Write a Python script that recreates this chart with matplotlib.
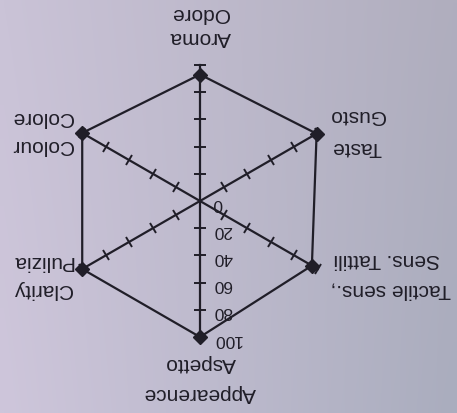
import numpy as np
import matplotlib
matplotlib.use("Agg")
import matplotlib.pyplot as plt
from matplotlib.markers import MarkerStyle
from matplotlib.transforms import Affine2D

# ---- data ----
categories = ["Aroma", "Taste", "Tactile sens.,", "Appearence", "Clarity", "Colour"]
categories_it = ["Odore", "Gusto", "Sens. Tattili", "Aspetto", "Pulizia", "Colore"]
angles_deg = [90, 30, -30, -90, 210, 150]
values = [93, 99, 95, 100, 100, 100]
tick_values = [20, 40, 60, 80, 100]
tick_labels = ["0", "20", "40", "60", "80", "100"]
tick_label_values = [0, 20, 40, 60, 80, 100]

W, H, DPI = 457, 413, 100
fig = plt.figure(figsize=(W / DPI, H / DPI), dpi=DPI)
ax = fig.add_axes([0, 0, 1, 1])

# pixel -> data helper (center at px (200,201), 100 units = 136 px)
S = 1.36
CX, CY = 200, 201
def px(x, y):
    return (x - CX) / S, (CY - y) / S

x0, y1 = px(0, 0)
x1, y0 = px(W, H)
ax.set_xlim(x0, x1)
ax.set_ylim(y0, y1)
ax.set_aspect("equal")
ax.axis("off")

# background photo-like gradient
corners = np.array([[[202, 195, 215], [176, 174, 190]],
                    [[206, 198, 219], [170, 173, 190]]], dtype=float) / 255
gy, gx = np.mgrid[0:1:60j, 0:1:60j]
img = (corners[0, 0] * ((1 - gx) * (1 - gy))[..., None] + corners[0, 1] * (gx * (1 - gy))[..., None]
       + corners[1, 0] * ((1 - gx) * gy)[..., None] + corners[1, 1] * (gx * gy)[..., None])
ax.imshow(img, extent=[x0, x1, y0, y1], origin="upper", aspect="auto", zorder=0, interpolation="bilinear")

line_col = "#201e28"
ang = np.deg2rad(np.array(angles_deg))

# spokes
for a in ang:
    ax.plot([0, 100 * np.cos(a)], [0, 100 * np.sin(a)], color=line_col, lw=1.6, zorder=2)
    # perpendicular tick marks
    m = MarkerStyle("|", transform=Affine2D().rotate_deg(np.rad2deg(a)))
    tv = np.array(tick_values)
    ax.plot(tv * np.cos(a), tv * np.sin(a), ls="none", marker=m, ms=8, mew=1.4,
            color=line_col, zorder=2)

# polygon
v = np.array(values)
xs = v * np.cos(ang)
ys = v * np.sin(ang)
ax.plot(np.append(xs, xs[0]), np.append(ys, ys[0]), color=line_col, lw=1.6, zorder=3)
ax.plot(xs, ys, ls="none", marker="D", ms=7, color=line_col, zorder=4)

# tick labels along the Appearence axis (upside down)
fam = ["Liberation Sans", "DejaVu Sans"]
for lab, tv in zip(tick_labels, tick_label_values):
    ax.text(px(213, 0)[0], -tv - 1.5, lab, rotation=180, ha="left", va="center",
            fontsize=12.5, family=fam, color=line_col, zorder=5)

# category labels (upside-down photo)
label_px = {
    "Aroma": ((200, 38), (200, 13)),
    "Taste": ((357, 148), (357, 115)),
    "Tactile sens.,": ((391, 290), (387, 260)),
    "Appearence": ((200, 393), (201, 363)),
    "Clarity": ((42, 289), (42, 261)),
    "Colour": ((42, 145), (42, 117)),
}
for en, it in zip(categories, categories_it):
    (ex, ey), (ix, iy) = label_px[en]
    ax.text(*px(ex, ey), en, rotation=180, ha="center", va="center",
            fontsize=15, family=fam, color=line_col, zorder=5)
    ax.text(*px(ix, iy), it, rotation=180, ha="center", va="center",
            fontsize=15, family=fam, color=line_col, zorder=5)

fig.savefig("out.png", dpi=DPI)
